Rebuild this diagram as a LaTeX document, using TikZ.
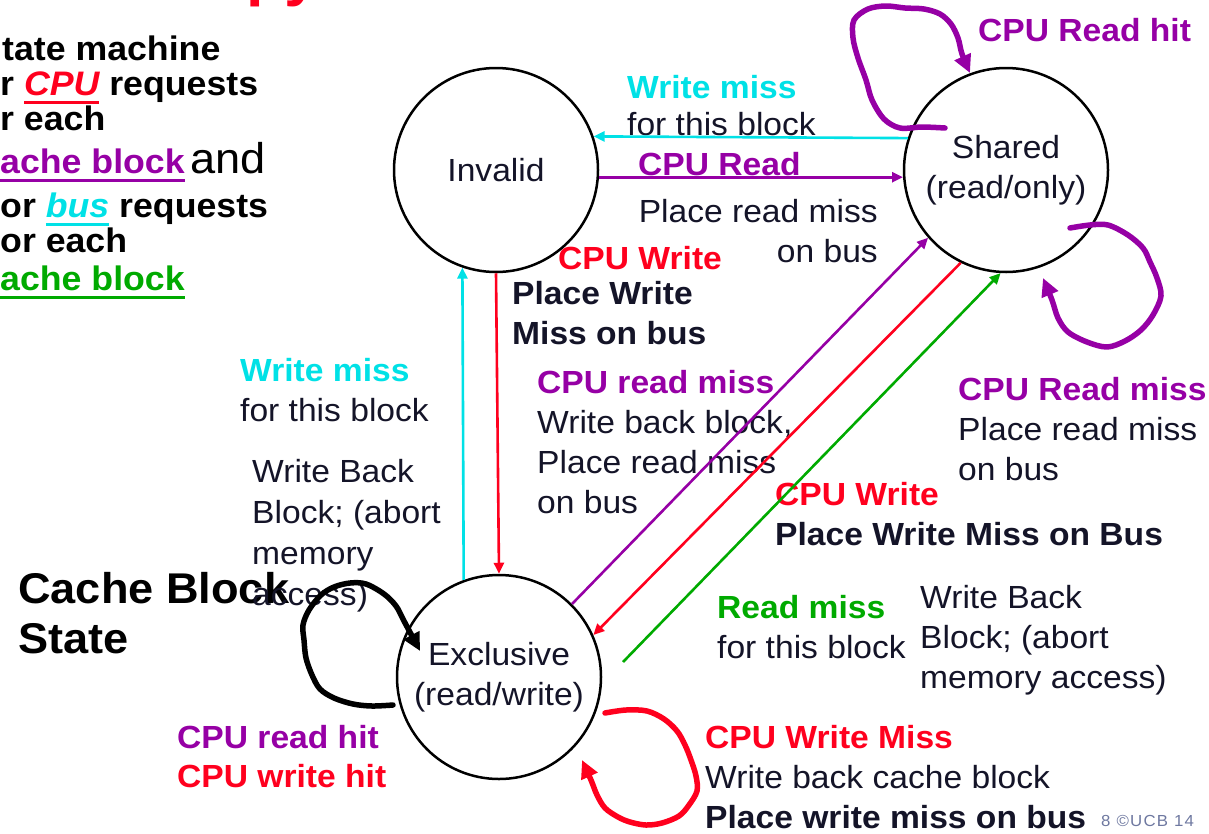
\documentclass[tikz,border=0pt]{standalone}
\usepackage{fontspec}
\setmainfont{Liberation Sans}[FakeStretch=1.05]
\usetikzlibrary{arrows.meta}

\definecolor{ink}{RGB}{20,20,40}
\definecolor{busCyan}{RGB}{0,225,230}
\definecolor{cpuRed}{RGB}{255,0,30}
\definecolor{blkPurple}{RGB}{150,0,165}
\definecolor{okGreen}{RGB}{0,170,0}
\definecolor{copyGrey}{RGB}{110,120,160}

% word with a thick coloured underline
\newcommand\ulword[2]{\setbox0\hbox{#2}\rlap{\color{#1}\rule[-8.5pt]{\wd0}{3pt}}\box0\relax}

\begin{document}
\begin{tikzpicture}[x=1pt,y=-1pt,
  % multi-line labels are placed by the baseline of their last line
  lbl/.style={anchor=base west, inner sep=0pt, align=left, text=ink,
              font=\fontsize{32}{40}\selectfont},
  bl/.style={font=\fontsize{32}{40}\selectfont\bfseries},
  intro/.style={anchor=base west, inner sep=0pt, text=black,
              font=\fontsize{34}{38}\selectfont\bfseries},
  stnode/.style={circle, draw=black, line width=2.5pt, minimum size=204pt,
              inner sep=0pt, align=center, text=ink, font=\fontsize{32}{40}\selectfont},
  link/.style={line width=2.6pt, -{Triangle[length=11pt,width=10pt]}},
  selfloop/.style={line width=5.5pt, line cap=round, line join=round,
              -{Triangle[length=18pt,width=17pt]}},
]
\useasboundingbox (0,0) rectangle (1209,833);

% title fragment and introduction
\node[anchor=base west, inner sep=0pt, text=cpuRed,
      font=\fontsize{60}{60}\selectfont\bfseries] (ttl) at (246,-6) {py};
\node[intro] (ln1) at (2,60) {tate machine};
\node[intro] (ln2) at (0,95) {r \ulword{cpuRed}{\textcolor{cpuRed}{\itshape CPU}} requests};
\node[intro] (ln3) at (0,130) {r each};
\node[intro] (ln4) at (0,173) {\ulword{blkPurple}{\textcolor{blkPurple}{ache block}}\,{\fontsize{43}{50}\selectfont\mdseries and}};
\node[intro] (ln5) at (0,217) {or \ulword{busCyan}{\textcolor{busCyan}{\itshape bus}} requests};
\node[intro] (ln6) at (0,252) {or each};
\node[intro] (ln7) at (0,290) {\ulword{okGreen}{\textcolor{okGreen}{ache block}}};

\node[lbl, font=\fontsize{43}{50}\selectfont\bfseries, text=black] (cbs) at (18,653) {Cache Block\\State};

% states
\node[stnode] (inv) at (496,170) {Invalid};
\node[stnode] (sh) at (1006,170) {Shared\\(read/only)};
\node[stnode] (ex) at (499,677) {Exclusive\\(read/write)};

% transition labels
\node[lbl, bl, text=blkPurple] (rdHitSh) at (978,41) {CPU Read hit};
\node[lbl] (wmTop) at (627,135) {\textcolor{busCyan}{\textbf{Write miss}}\\[-3pt]for this block};
\node[lbl, bl, text=blkPurple] (cpuRd) at (638,175) {CPU Read};
\node[lbl, align=right, anchor=base east] (prmTop) at (878,262) {Place read miss\\on bus};
\node[lbl, bl, text=cpuRed] (cpuWrInv) at (558,269) {CPU Write};
\node[lbl, bl] (pwmInv) at (512,344) {Place Write\\Miss on bus};
\node[lbl] (wmLeft) at (240,421) {\textcolor{busCyan}{\textbf{Write miss}}\\for this block};
\node[lbl] (wbLeft) at (252,605) {Write Back\\[1pt]Block; (abort\\[1pt]memory\\[1pt]access)};
\node[lbl] (rdMissEx) at (537,513) {\textcolor{blkPurple}{\textbf{CPU read miss}}\\Write back block,\\Place read miss\\on bus};
\node[lbl] (rdMissSh) at (958,480) {\textcolor{blkPurple}{\textbf{CPU Read miss}}\\Place read miss\\on bus};
\node[lbl] (cpuWrSh) at (775,545) {\textcolor{cpuRed}{\textbf{CPU Write}}\\\textbf{Place Write Miss on Bus}};
\node[lbl] (rdMiss) at (717,658) {\textcolor{okGreen}{\textbf{Read miss}}\\for this block};
\node[lbl] (wbRight) at (920,688) {Write Back\\Block; (abort\\memory access)};
\node[lbl] (hits) at (177,787) {\textcolor{blkPurple}{\textbf{CPU read hit}}\\[-1pt]\textcolor{cpuRed}{\textbf{CPU write hit}}};
\node[lbl] (wrMiss) at (705,828) {\textcolor{cpuRed}{\textbf{CPU Write Miss}}\\Write back cache block\\\textbf{Place write miss on bus}};
\node[anchor=base west, inner sep=0pt, text=copyGrey,
      font=\fontsize{16}{16}\selectfont\addfontfeature{LetterSpace=8}] (copy) at (1101,826) {8 ©UCB 14};

% transitions between states
\draw[link, busCyan] (sh.162) -- (inv.19);
\draw[link, blkPurple] (inv.-4) -- (sh.184);
\draw[link, cpuRed] (inv.south) -- (ex.north);
\draw[link, busCyan] (ex.110) -- (inv.251);
\draw[link, blkPurple] (ex.45) -- (sh.221);
\draw[link, cpuRed] (sh.244) -- (ex.24);
\coordinate (gFrom) at (623,662);
\draw[link, okGreen] (gFrom) -- (sh.267);

% hand-drawn self loops (slightly uneven strokes)
\draw[selfloop, blkPurple] plot[smooth, tension=0.55] coordinates
  {(945,128) (922,127) (900,128) (884,119) (872,100) (866,80) (858,58) (853,38) (854,20) (868,9) (886,6) (905,8) (924,9) (940,14) (951,24) (958,38) (962,54) (970,73)};
\draw[selfloop, blkPurple] plot[smooth, tension=0.55] coordinates
  {(1070,228) (1090,225) (1108,225) (1128,235) (1143,248) (1150,262) (1157,278) (1161,296) (1153,315) (1141,330) (1125,341) (1107,347) (1087,342) (1068,332) (1058,318) (1052,300) (1043,278)};
\draw[selfloop, black] plot[smooth, tension=0.55] coordinates
  {(393,705) (372,706) (353,704) (334,698) (320,689) (312,675) (306,658) (304,640) (303,625) (309,610) (321,595) (334,587) (350,583) (366,584) (384,594) (396,606) (404,621) (420,651)};
\draw[selfloop, cpuRed] plot[smooth, tension=0.55] coordinates
  {(605,713) (626,710) (647,711) (664,719) (677,731) (685,745) (691,760) (696,776) (697,791) (689,805) (679,816) (662,823) (646,825) (630,822) (618,817) (605,808) (597,795) (591,780) (582,760)};
\end{tikzpicture}
\end{document}
